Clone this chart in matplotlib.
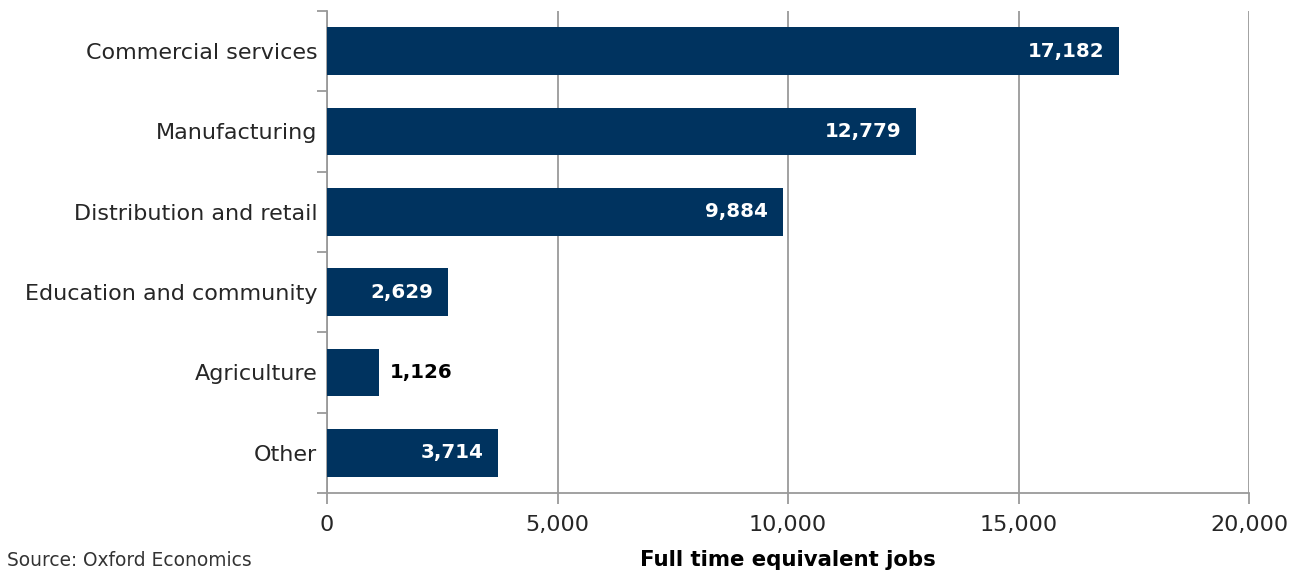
import matplotlib
matplotlib.use("Agg")
import matplotlib.pyplot as plt
from matplotlib.ticker import FuncFormatter, FixedLocator
from matplotlib.transforms import offset_copy

categories = ["Commercial services", "Manufacturing", "Distribution and retail",
              "Education and community", "Agriculture", "Other"]
values = [17182, 12779, 9884, 2629, 1126, 3714]
label_inside = [True, True, True, True, False, True]
x_ticks = [0, 5000, 10000, 15000, 20000]

BAR = "#00335F"
GRID = "#9A9A9A"
TXT = "#262626"
plt.rcParams["font.family"] = ["DejaVu Sans"]

fig = plt.figure(figsize=(13.04, 5.72), dpi=100)
ax = fig.add_axes([327/1304, 1 - 493/572, (1249 - 327)/1304, (493 - 11)/572])

n = len(categories)
ypos = list(range(n))
ax.barh(ypos, values, height=0.59, color=BAR, zorder=3)
ax.set_ylim(n - 0.5, -0.5)
ax.set_xlim(0, 20000)

ax.set_xticks(x_ticks)
ax.xaxis.set_major_formatter(FuncFormatter(lambda v, p: f"{int(v):,}"))
ax.grid(axis="x", color=GRID, linewidth=1.3, zorder=0)
ax.tick_params(axis="x", length=8, width=1.3, color=GRID, labelsize=16,
               pad=8, labelcolor=TXT)

ax.set_yticks(ypos)
ax.set_yticklabels(categories)
ax.tick_params(axis="y", which="major", length=0, pad=7, labelsize=16,
               labelcolor=TXT)
ax.yaxis.set_minor_locator(FixedLocator([i - 0.5 for i in range(n + 1)]))
ax.tick_params(axis="y", which="minor", length=7, width=1.3, color=GRID)

for s in ["top", "right"]:
    ax.spines[s].set_visible(False)
for s in ["left", "bottom"]:
    ax.spines[s].set_color(GRID)
    ax.spines[s].set_linewidth(1.3)

for y, v, inside in zip(ypos, values, label_inside):
    if inside:
        tr = offset_copy(ax.transData, fig=fig, x=-15, y=0, units="dots")
        ax.text(v, y, f"{v:,}", transform=tr, ha="right", va="center",
                color="white", fontsize=14.3, fontweight="bold", zorder=4)
    else:
        tr = offset_copy(ax.transData, fig=fig, x=11, y=0, units="dots")
        ax.text(v, y, f"{v:,}", transform=tr, ha="left", va="center",
                color="black", fontsize=14.3, fontweight="bold", zorder=4)

fig.text(788/1304, 1 - 560/572, "Full time equivalent jobs", ha="center",
         va="center", fontsize=15.3, fontweight="bold", color="black")
fig.text(7/1304, 1 - 561/572, "Source: Oxford Economics", ha="left",
         va="center", fontsize=13.4, color="#333333")

fig.savefig("out.png", dpi=100)
